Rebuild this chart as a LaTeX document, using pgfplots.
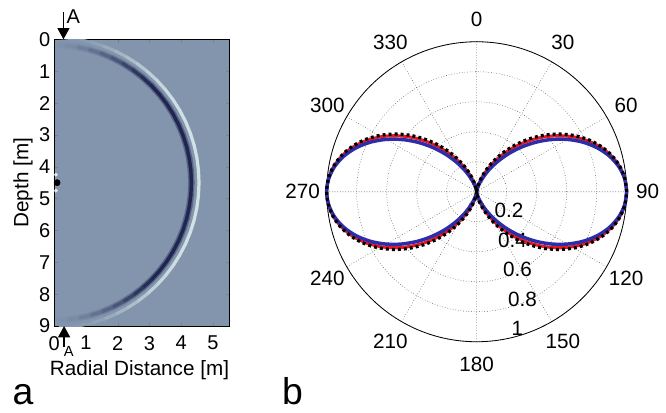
\documentclass[border=0pt]{standalone}
\usepackage{fontspec}
\setmainfont{Liberation Sans}
\usepackage{pgfplots}
\pgfplotsset{compat=1.18}
\usepackage{pgfplotstable}
\usepgfplotslibrary{polar}
\usetikzlibrary{arrows.meta}

\definecolor{bgwave}{RGB}{130,149,173}
\definecolor{mlred}{RGB}{235,25,35}
\definecolor{mlblue}{RGB}{45,45,170}

% radiation pattern, angle measured in the plot's own frame
\pgfplotstableread{
phi black red blue
0 1 1 1
5 0.99240 0.99183 0.99051
10 0.96985 0.96762 0.96245
15 0.93301 0.92817 0.91698
20 0.88302 0.87482 0.85598
25 0.82139 0.80937 0.78194
30 0.75000 0.73402 0.69795
35 0.67101 0.65127 0.60738
40 0.58682 0.56375 0.51356
45 0.50000 0.47468 0.42045
50 0.41318 0.38669 0.33129
55 0.32899 0.30264 0.24913
60 0.25000 0.22531 0.17678
65 0.17861 0.15700 0.11612
70 0.11698 0.09960 0.06841
75 0.06699 0.05468 0.03408
80 0.03015 0.02319 0.01257
85 0.00760 0.00527 0.00224
90 0 0 0
95 0.00760 0.00527 0.00224
100 0.03015 0.02319 0.01257
105 0.06699 0.05468 0.03408
110 0.11698 0.09960 0.06841
115 0.17861 0.15700 0.11612
120 0.25000 0.22531 0.17678
125 0.32899 0.30264 0.24913
130 0.41318 0.38669 0.33129
135 0.50000 0.47468 0.42045
140 0.58682 0.56375 0.51356
145 0.67101 0.65127 0.60738
150 0.75000 0.73402 0.69795
155 0.82139 0.80937 0.78194
160 0.88302 0.87482 0.85598
165 0.93301 0.92817 0.91698
170 0.96985 0.96762 0.96245
175 0.99240 0.99183 0.99051
180 1 1 1
185 0.99240 0.99183 0.99051
190 0.96985 0.96762 0.96245
195 0.93301 0.92817 0.91698
200 0.88302 0.87482 0.85598
205 0.82139 0.80937 0.78194
210 0.75000 0.73402 0.69795
215 0.67101 0.65127 0.60738
220 0.58682 0.56375 0.51356
225 0.50000 0.47468 0.42045
230 0.41318 0.38669 0.33129
235 0.32899 0.30264 0.24913
240 0.25000 0.22531 0.17678
245 0.17861 0.15700 0.11612
250 0.11698 0.09960 0.06841
255 0.06699 0.05468 0.03408
260 0.03015 0.02319 0.01257
265 0.00760 0.00527 0.00224
270 0 0 0
275 0.00760 0.00527 0.00224
280 0.03015 0.02319 0.01257
285 0.06699 0.05468 0.03408
290 0.11698 0.09960 0.06841
295 0.17861 0.15700 0.11612
300 0.25000 0.22531 0.17678
305 0.32899 0.30264 0.24913
310 0.41318 0.38669 0.33129
315 0.50000 0.47468 0.42045
320 0.58682 0.56375 0.51356
325 0.67101 0.65127 0.60738
330 0.75000 0.73402 0.69795
335 0.82139 0.80937 0.78194
340 0.88302 0.87482 0.85598
345 0.93301 0.92817 0.91698
350 0.96985 0.96762 0.96245
355 0.99240 0.99183 0.99051
360 1 1 1
}\pattern

\tikzset{lbl/.style={font=\fontsize{15.5}{18}\selectfont, inner sep=0pt}}

\begin{document}
\begin{tikzpicture}
\useasboundingbox (0pt,0pt) rectangle (499.5pt,-309pt);

% ---- panel a: wavefield snapshot
\begin{axis}[
    at={(40.69pt,-244.5pt)}, anchor=south west,
    scale only axis, width=130.95pt, height=215pt,
    xmin=0, xmax=5.5, ymin=0, ymax=9, y dir=reverse,
    xtick={0,1,2,3,4,5}, ytick={0,1,2,3,4,5,6,7,8,9},
    tick align=inside, major tick length=2.5pt,
    axis background/.style={fill=bgwave},
    colormap={wave}{rgb255=(230,244,242) rgb255=(130,149,173) rgb255=(32,38,80)},
    point meta min=-1, point meta max=1,
    clip mode=individual,
    tick label style={font=\fontsize{15}{17}\selectfont},
    yticklabel style={xshift=0.5pt},
    /pgf/number format/assume math mode=true,
    xticklabel style={yshift=-4pt},
    xlabel={Radial Distance [m]}, ylabel={Depth [m]},
    every axis x label/.style={at={(axis description cs:0.488,-0.153)}, anchor=center, lbl},
    every axis y label/.style={at={(axis description cs:-0.179,0.5)}, anchor=center, rotate=90, lbl},
]
% dark band, soft edge
\addplot[mesh, point meta=explicit, line width=4.8pt, line cap=round] coordinates {
    (0.151,0.183) [0.01] (0.377,0.196) [0.025] (0.750,0.246) [0.06] (1.118,0.327) [0.11]
    (1.477,0.441) [0.17] (1.826,0.585) [0.22] (2.160,0.759) [0.28] (2.478,0.961) [0.34]
    (2.777,1.191) [0.39] (3.055,1.445) [0.42] (3.309,1.723) [0.42] (3.539,2.022) [0.42]
    (3.741,2.340) [0.42] (3.915,2.674) [0.42] (4.060,3.023) [0.42] (4.173,3.382) [0.42]
    (4.254,3.750) [0.42] (4.304,4.123) [0.42] (4.320,4.500) [0.42] (4.304,4.877) [0.42]
    (4.254,5.250) [0.42] (4.173,5.618) [0.42] (4.060,5.977) [0.42] (3.915,6.326) [0.42]
    (3.741,6.660) [0.42] (3.539,6.978) [0.42] (3.309,7.277) [0.42] (3.055,7.555) [0.42]
    (2.777,7.809) [0.39] (2.478,8.039) [0.34] (2.160,8.241) [0.28] (1.826,8.415) [0.22]
    (1.477,8.559) [0.17] (1.118,8.673) [0.11] (0.750,8.754) [0.06] (0.377,8.804) [0.025]
    (0.151,8.817) [0.01]
};
% dark band, core
\addplot[mesh, point meta=explicit, line width=2.6pt, line cap=round] coordinates {
    (0.151,0.183) [0.02] (0.377,0.196) [0.05] (0.750,0.246) [0.13] (1.118,0.327) [0.25]
    (1.477,0.441) [0.38] (1.826,0.585) [0.5] (2.160,0.759) [0.65] (2.478,0.961) [0.8]
    (2.777,1.191) [0.9] (3.055,1.445) [1] (3.309,1.723) [1] (3.539,2.022) [1]
    (3.741,2.340) [1] (3.915,2.674) [1] (4.060,3.023) [1] (4.173,3.382) [1]
    (4.254,3.750) [1] (4.304,4.123) [1] (4.320,4.500) [1] (4.304,4.877) [1]
    (4.254,5.250) [1] (4.173,5.618) [1] (4.060,5.977) [1] (3.915,6.326) [1]
    (3.741,6.660) [1] (3.539,6.978) [1] (3.309,7.277) [1] (3.055,7.555) [1]
    (2.777,7.809) [0.9] (2.478,8.039) [0.8] (2.160,8.241) [0.65] (1.826,8.415) [0.5]
    (1.477,8.559) [0.38] (1.118,8.673) [0.25] (0.750,8.754) [0.13] (0.377,8.804) [0.05]
    (0.151,8.817) [0.02]
};
% light band just outside
\addplot[mesh, point meta=explicit, line width=2.4pt, line cap=round] coordinates {
    (0.159,-0.057) [0] (0.398,-0.043) [-0.02] (0.792,0.009) [-0.05] (1.180,0.095) [-0.1]
    (1.560,0.215) [-0.18] (1.927,0.367) [-0.28] (2.280,0.551) [-0.38] (2.616,0.765) [-0.48]
    (2.931,1.007) [-0.58] (3.224,1.276) [-0.66] (3.493,1.569) [-0.72] (3.735,1.884) [-0.76]
    (3.949,2.220) [-0.78] (4.133,2.573) [-0.8] (4.285,2.940) [-0.8] (4.405,3.320) [-0.8]
    (4.491,3.708) [-0.8] (4.543,4.103) [-0.8] (4.560,4.500) [-0.8] (4.543,4.897) [-0.8]
    (4.491,5.292) [-0.8] (4.405,5.680) [-0.8] (4.285,6.060) [-0.8] (4.133,6.427) [-0.8]
    (3.949,6.780) [-0.78] (3.735,7.116) [-0.76] (3.493,7.431) [-0.72] (3.224,7.724) [-0.66]
    (2.931,7.993) [-0.58] (2.616,8.235) [-0.48] (2.280,8.449) [-0.38] (1.927,8.633) [-0.28]
    (1.560,8.785) [-0.18] (1.180,8.905) [-0.1] (0.792,8.991) [-0.05] (0.398,9.043) [-0.02]
    (0.159,9.057) [0]
};
% source
\addplot[only marks, mark=*, mark size=1.3pt, white, opacity=0.7] coordinates {(0.05,4.25) (0.05,4.75)};
\addplot[only marks, mark=*, mark size=2.3pt, black] coordinates {(0.09,4.5)};

\draw[line width=1pt, -{Triangle[length=8.5pt,width=9pt]}] (axis cs:0.29,-0.85) -- (axis cs:0.29,0);
\node[font=\fontsize{15}{17}\selectfont, inner sep=0pt] at (axis cs:0.6,-0.7) {A};
\draw[line width=1pt, -{Triangle[length=8.5pt,width=9pt]}] (axis cs:0.31,9.66) -- (axis cs:0.31,9);
\node[font=\fontsize{11}{13}\selectfont, inner sep=0pt] at (axis cs:0.46,9.79) {A};
\end{axis}

% ---- panel b: radiation patterns
\begin{polaraxis}[
    at={(357.5pt,-143.8pt)}, anchor=center,
    scale only axis, width=225pt, height=225pt,
    ymin=0, ymax=1,
    xtick={0,30,...,330}, ytick={0.2,0.4,0.6,0.8,1},
    xticklabels={}, yticklabels={},
    grid=major,
    major grid style={black!65, line width=0.4pt, dash pattern=on 0.5pt off 1.5pt},
    major tick length=0pt,
    x axis line style={black, line width=0.6pt},
    y axis line style={draw=none},
    clip=false,
]
\node[lbl] at (axis cs:-30.6,0.25) {0.2};
\node[lbl] at (axis cs:-53.8,0.405) {0.4};
\node[lbl] at (axis cs:-62.2,0.583) {0.6};
\node[lbl] at (axis cs:-66.9,0.778) {0.8};
\node[lbl] at (axis cs:-73.4,0.951) {1};

\addplot[mlred, line width=2.3pt, smooth] table[x=phi, y=red] {\pattern};
\addplot[mlblue, line width=2.6pt, smooth] table[x=phi, y=blue] {\pattern};
\addplot[black, line width=2.4pt, dash pattern=on 2.2pt off 2.3pt, smooth] table[x=phi, y=black] {\pattern};

\node[lbl] at (axis cs:90,1.15) {0};
\node[lbl] at (axis cs:60,1.15) {30};
\node[lbl] at (axis cs:30,1.15) {60};
\node[lbl] at (axis cs:0,1.14) {90};
\node[lbl] at (axis cs:-30,1.15) {120};
\node[lbl] at (axis cs:-60,1.15) {150};
\node[lbl] at (axis cs:-90,1.15) {180};
\node[lbl] at (axis cs:-120,1.15) {210};
\node[lbl] at (axis cs:-150,1.15) {240};
\node[lbl] at (axis cs:180,1.16) {270};
\node[lbl] at (axis cs:150,1.15) {300};
\node[lbl] at (axis cs:120,1.15) {330};
\end{polaraxis}

\node[font=\fontsize{28}{30}\selectfont] at (17.25pt,-296.25pt) {a};
\node[font=\fontsize{28}{30}\selectfont] at (219.4pt,-293.5pt) {b};
\end{tikzpicture}
\end{document}
